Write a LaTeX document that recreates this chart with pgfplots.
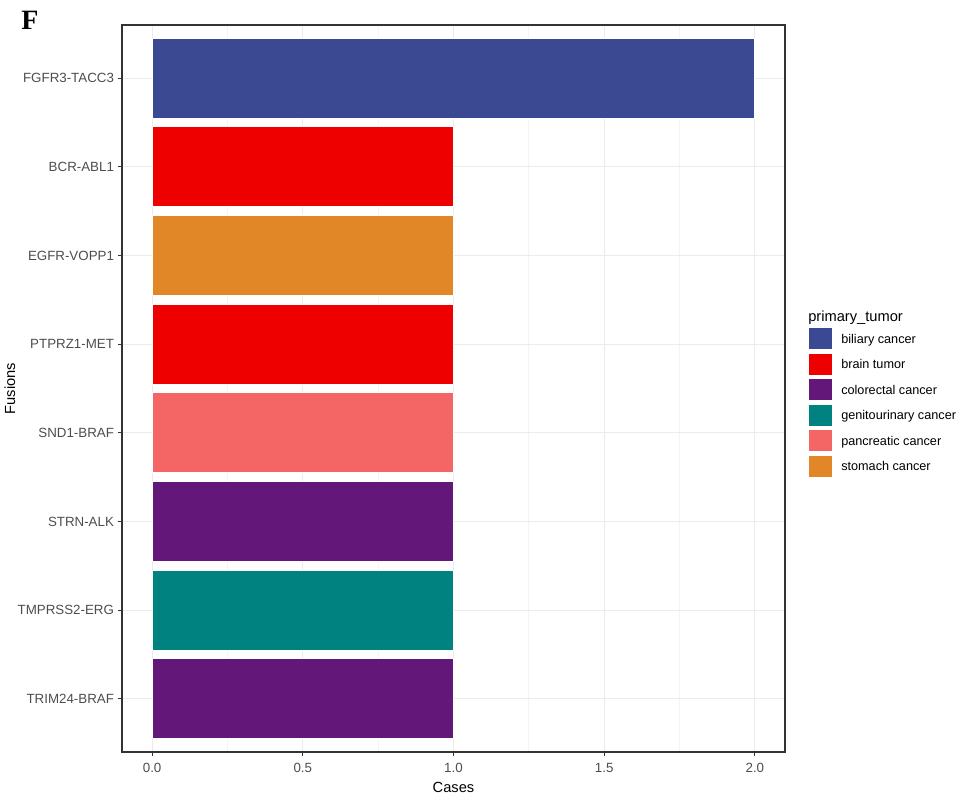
\documentclass[border=0pt]{standalone}
\usepackage{pgfplots}
\pgfplotsset{compat=1.18}
\usepackage{fontspec}
\setmainfont{Liberation Sans}
\newfontfamily\seriffont{Liberation Serif}
\definecolor{cBil}{HTML}{3B4992}
\definecolor{cBra}{HTML}{EE0000}
\definecolor{cCol}{HTML}{631879}
\definecolor{cGen}{HTML}{008280}
\definecolor{cPan}{HTML}{F46666}
\definecolor{cSto}{HTML}{E18727}
\definecolor{gridmaj}{HTML}{EBEBEB}
\definecolor{gridmin}{HTML}{F4F4F4}
\definecolor{axc}{HTML}{333333}
\definecolor{tickc}{HTML}{4D4D4D}
\begin{document}
\begin{tikzpicture}[x=0.75pt,y=0.75pt]
\path[use as bounding box] (-122,-49) rectangle (842,752);
\node[anchor=north west,inner sep=0pt,font=\seriffont\bfseries\fontsize{21}{24}\selectfont] at (-101,741) {F};
\node[anchor=base west, inner sep=0pt, font=\fontsize{11}{13}\selectfont] at (686,430) {primary\_tumor};
\begin{axis}[
  at={(0,0)}, anchor=south west,
  scale only axis, width=497.25pt, height=545.25pt,
  xmin=-0.1, xmax=2.1, ymin=0.4, ymax=8.6,
  xbar, bar shift=0pt, bar width=0.9,
  xtick={0,0.5,1,1.5,2},
  minor x tick num=1,
  ytick={1,...,8},
  yticklabels={TRIM24-BRAF,TMPRSS2-ERG,STRN-ALK,SND1-BRAF,PTPRZ1-MET,EGFR-VOPP1,BCR-ABL1,FGFR3-TACC3},
  ticklabel style={font=\fontsize{10}{12}\selectfont, text=tickc},
  xticklabel style={yshift=-2pt, /pgf/number format/.cd,fixed,fixed zerofill,precision=1,assume math mode=true},
  yticklabel style={xshift=0.5pt},
  xmajorgrids, ymajorgrids, xminorgrids,
  major grid style={gridmaj, line width=0.8pt},
  minor grid style={gridmin, line width=0.6pt},
  axis line style={axc, line width=0.8pt},
  tick style={axc, line width=0.8pt},
  major tick length=3pt, minor tick length=0pt,
  tick align=outside, xtick pos=bottom, ytick pos=left,
  xlabel={Cases}, ylabel={Fusions},
  label style={font=\fontsize{11}{13}\selectfont},
  xlabel style={yshift=0pt},
  ylabel style={yshift=-5pt},
  legend cell align=left,
  legend image code/.code={\fill[#1] (0pt,-4.85pt) rectangle (18pt,11.65pt);},
  legend style={at={(1.0347,0.5846)}, anchor=north west, draw=none, fill=none,
     inner sep=0pt, row sep=1.9pt,
     font=\fontsize{9.5}{11}\selectfont,
     nodes={inner sep=0pt, text height=11.65pt, text depth=4.85pt, anchor=base west}},
  legend columns=1,
]
\addplot[fill=cBil, draw=white, line width=0.75pt] coordinates {(2,8)};
\addlegendentry{\hspace{6pt}biliary cancer}
\addplot[fill=cBra, draw=white, line width=0.75pt] coordinates {(1,7) (1,5)};
\addlegendentry{\hspace{6pt}brain tumor}
\addplot[fill=cCol, draw=white, line width=0.75pt] coordinates {(1,3) (1,1)};
\addlegendentry{\hspace{6pt}colorectal cancer}
\addplot[fill=cGen, draw=white, line width=0.75pt] coordinates {(1,2)};
\addlegendentry{\hspace{6pt}genitourinary cancer}
\addplot[fill=cPan, draw=white, line width=0.75pt] coordinates {(1,4)};
\addlegendentry{\hspace{6pt}pancreatic cancer}
\addplot[fill=cSto, draw=white, line width=0.75pt] coordinates {(1,6)};
\addlegendentry{\hspace{6pt}stomach cancer}
\end{axis}
\end{tikzpicture}
\end{document}
